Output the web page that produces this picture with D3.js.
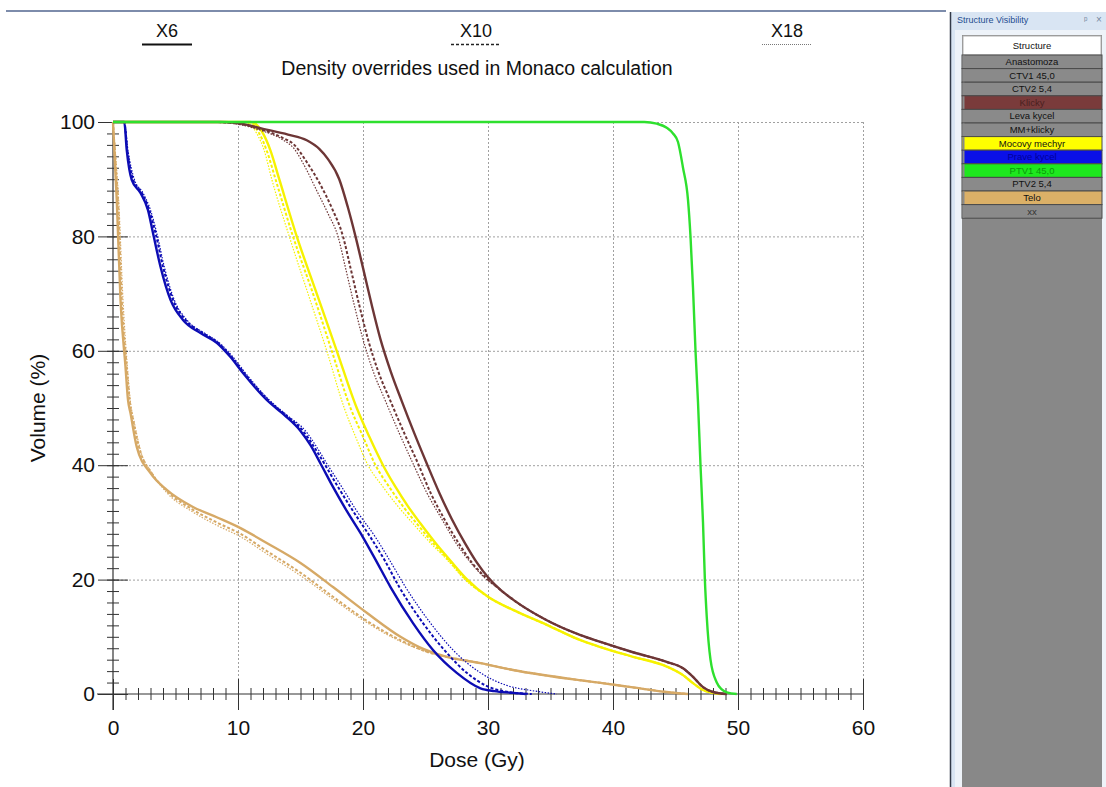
<!DOCTYPE html>
<html>
<head>
<meta charset="utf-8">
<script src="https://cdn.jsdelivr.net/npm/d3@7"></script>
<style>
  body { margin: 0; background: #fff; }
  svg { display: block; font-family: "Liberation Sans", Arial, sans-serif; }
</style>
</head>
<body>
<script>
// DVH curves, [dose Gy, volume %]
var klickyTail = [[31,18.2],[32,16.5],[34.7,12.9],[37.4,10.3],[39,9.1],[41.6,7.3],[44.3,5.6],[45.6,4.5],[46.4,3],[47.2,1.2],[48,0.35],[49.1,0]];
var klickyX6 = [[0,100],[8.5,100],[10,99.8],[12,98.8],[14,97.8],[15.5,96.8],[16.5,95.3],[17.2,93.5],[18.1,90],[18.8,85],[19.4,80],[20,74.5],[20.7,68],[21.4,62],[22.2,56.5],[23.1,51.2],[24.1,45.6],[25.1,40.3],[26.1,35.2],[27.1,30.6],[28.2,26.2],[29.1,23],[30,20.4]].concat(klickyTail);
var klickyX10 = [[0,100],[8,100],[10,99.7],[12,98.6],[13.5,97.3],[14.5,96],[15.5,93],[16.6,89],[17.5,85],[18.4,80],[19,74.5],[19.7,68],[20.4,62],[21.2,56.5],[22.2,51.2],[23.3,45.6],[24.4,40.3],[25.4,35.2],[26.5,30.6],[27.7,26.2],[28.7,23],[29.8,20.4]].concat(klickyTail);
var klickyX18 = [[0,100],[8,100],[10,99.6],[12,98.4],[13.5,97],[14.5,95.3],[15.4,92],[16.3,88],[17.2,84],[18,80],[18.6,74.5],[19.3,68],[20,62],[20.8,56.5],[21.8,51.2],[22.9,45.6],[24,40.3],[25.1,35.2],[26.3,30.6],[27.5,26.2],[28.6,23],[29.7,20.4]].concat(klickyTail);

var mechyrTail = [[30,17],[32,14.7],[34.7,12.1],[37.4,9.4],[39,8.2],[41.6,6.5],[44.3,4.8],[45.6,3.3],[46.4,1.9],[47.2,0.7],[48,0.2],[48.6,0]];
var mechyrX6 = [[0,100],[11,100],[12,98],[12.6,95],[13.3,90],[14.7,80],[16.3,70],[17.9,60],[19.5,50],[20.5,45],[21.6,40],[22.6,36.2],[23.6,32.8],[24.6,29.8],[25.8,26.4],[27,23.3],[28.3,20.1]].concat(mechyrTail);
var mechyrX10 = [[0,100],[10.7,100],[11.7,98],[12.3,95],[13,90],[14.4,80],[16,70],[17.5,60],[19,50],[20,45],[21,40],[22.1,36.2],[23.2,32.8],[24.3,29.8],[25.6,26.4],[26.9,23.3],[28.2,20.1]].concat(mechyrTail);
var mechyrX18 = [[0,100],[10.5,100],[11.5,98],[12.1,95],[12.7,90],[14.1,80],[15.6,70],[17.1,60],[18.5,50],[19.4,45],[20.4,40],[21.6,36.2],[22.8,32.8],[24,29.8],[25.4,26.4],[26.8,23.3],[28.1,20.1]].concat(mechyrTail);

var kycelX6 = [[0,100],[0.9,100],[1.1,95.1],[1.5,89.9],[2.2,87.6],[2.8,84.6],[3.2,80.6],[3.8,74.7],[4.6,68.9],[5.6,65.4],[7,63.1],[8.3,61.4],[9.4,58.9],[10.4,56.1],[12.3,51.4],[13.8,48.6],[15,46],[15.8,43.5],[16.6,40.3],[17.6,36.2],[18.7,32],[20,27.4],[21,23.5],[22.2,18.7],[24,12.4],[25.6,7.7],[27.5,3.7],[29.4,1],[30.5,0.5],[32,0.2],[33,0]];
var kycelX10 = [[0,100],[0.9,100],[1.15,95],[1.6,90],[2.3,87.6],[2.9,84.6],[3.4,80.6],[4,74.7],[4.8,68.9],[5.8,65.4],[7.2,63.1],[8.4,61.4],[9.5,58.9],[10.5,56.1],[12.4,51.4],[13.9,48.6],[15.2,46],[16,43.5],[16.9,40.3],[18,36.2],[19.2,32],[20.6,27.4],[21.7,23.5],[22.9,18.7],[24.8,12.4],[26.5,7.7],[28.3,3.7],[30,1.3],[31.5,0.4],[33.5,0]];
var kycelX18 = [[0,100],[0.9,100],[1.2,95],[1.7,90],[2.4,87.6],[3,84.6],[3.5,80.6],[4.1,74.7],[4.9,68.9],[5.9,65.4],[7.3,63.1],[8.5,61.4],[9.6,58.9],[10.6,56.1],[12.5,51.4],[14,48.6],[15.4,46],[16.2,43.5],[17.1,40.3],[18.3,36.2],[19.5,32],[21,27.4],[22.1,23.5],[23.4,18.7],[25.4,12.4],[27.2,7.7],[29.4,3.7],[31.5,1.5],[33.5,0.6],[35.5,0]];

var teloTail = [[26.7,6.5],[29.4,5.4],[32,4.2],[37.4,2.4],[39,1.95],[41.6,1.15],[44.3,0.35],[46,0]];
var teloX6 = [[0,100],[0.15,93],[0.3,86.4],[0.6,68.9],[1,57.2],[1.2,51.4],[1.4,49.1],[1.9,43.2],[3,38.6],[4.3,35.7],[6.4,32.7],[8.3,30.9],[10.2,29],[12.3,26.4],[15,22.9],[17.6,18.7],[20.3,14.2],[23,10],[24.5,8.2]].concat(teloTail);
var teloX10 = [[0,100],[0.2,93],[0.4,86.4],[0.7,68.9],[1.1,57.2],[1.35,51],[1.6,48],[2.1,43],[3.1,38.6],[4.3,35.5],[6.4,32.2],[8.3,30],[10.2,28],[12.3,25],[15,21.2],[17.6,17],[20.3,12.8],[23,9.4],[25.2,7.3]].concat(teloTail);
var teloX18 = [[0,100],[0.25,93],[0.45,86.4],[0.8,68.9],[1.15,57.2],[1.4,51],[1.7,47.5],[2.2,42.6],[3.2,38.4],[4.3,35.2],[6.4,31.8],[8.3,29.5],[10.2,27.5],[12.3,24.5],[15,20.7],[17.6,16.6],[20.3,12.5],[23,9.2],[25.2,7.3]].concat(teloTail);

var ptv1 = [[0,100],[42.5,100],[43.5,99.7],[44.3,99],[44.8,98],[45.2,96.5],[45.6,92],[46,86.4],[46.2,80],[46.4,71],[46.6,60],[46.8,51],[47,40],[47.2,30],[47.35,20],[47.5,13.5],[47.8,6],[48.3,2],[48.7,0.8],[49.1,0.3],[49.9,0]];

var xTicks = [0,10,20,30,40,50,60];
var yTicks = [0,20,40,60,80,100];
var legendNames = ["X6","X10","X18"];

var structNames = ["Anastomoza","CTV1 45,0","CTV2 5,4","Klicky","Leva kycel","MM+klicky","Mocovy mechyr","Prave kycel","PTV1 45,0","PTV2 5,4","Telo","xx"];
var structColors = ["#8a8a8a","#8a8a8a","#8a8a8a","#7a3b3b","#8a8a8a","#8a8a8a","#ffff00","#0a10e8","#1ee81e","#8a8a8a","#dbb067","#8a8a8a"];
var structText = ["#111","#111","#111","#4a2020","#111","#111","#111","#00009a","#0a9a0a","#111","#111","#333"];

var width = 1106, height = 787;
var svg = d3.select("body").append("svg").attr("width", width).attr("height", height);

var x = d3.scaleLinear().domain([0,60]).range([113,863]);
var y = d3.scaleLinear().domain([0,100]).range([694,122]);

// window frame
svg.append("line").attr("x1",6).attr("x2",946).attr("y1",11).attr("y2",11)
   .attr("stroke","#7d8cab").attr("stroke-width",2);

// legend
var legStyles = [{dash:null, w:2, c:"#111"}, {dash:"3,2", w:1.6, c:"#222"}, {dash:"1,1", w:1, c:"#777"}];
var legX = [167,476,787];
legendNames.forEach(function(n,i){
  svg.append("text").attr("x",legX[i]).attr("y",37).attr("text-anchor","middle")
     .attr("font-size","18px").attr("fill","#111").text(n);
  svg.append("line").attr("x1",legX[i]-25).attr("x2",legX[i]+25).attr("y1",44.5).attr("y2",44.5)
     .attr("stroke",legStyles[i].c).attr("stroke-width",legStyles[i].w)
     .attr("stroke-dasharray",legStyles[i].dash);
});

svg.append("text").attr("x",477).attr("y",75).attr("text-anchor","middle")
   .attr("font-size","19.5px").attr("fill","#111").text("Density overrides used in Monaco calculation");

// grid
var grid = svg.append("g").attr("stroke","#a0a0a0").attr("stroke-dasharray","2,2").attr("stroke-width",1);
grid.selectAll(".vg").data(xTicks.slice(1)).enter().append("line")
    .attr("x1",function(d){return x(d)+0.5;}).attr("x2",function(d){return x(d)+0.5;})
    .attr("y1",y(100)).attr("y2",y(0));
grid.selectAll(".hg").data(yTicks.slice(1)).enter().append("line")
    .attr("y1",function(d){return y(d)+0.5;}).attr("y2",function(d){return y(d)+0.5;})
    .attr("x1",x(0)).attr("x2",x(60));

// axes
var axisColor = "#333";
var gx = svg.append("g").attr("transform","translate(0,694)");
gx.append("line").attr("x1",x(0)-16).attr("x2",x(60)).attr("stroke",axisColor).attr("stroke-width",1.2);
var gxMinor = gx.append("g").call(d3.axisBottom(x).tickValues(d3.range(0,61,1)).tickSize(6).tickFormat(""));
gxMinor.selectAll(".tick line").attr("y1",-6);
var gxMajor = gx.append("g").call(d3.axisBottom(x).tickValues(xTicks).tickSize(16).tickPadding(10));
gxMajor.selectAll(".tick line").attr("y1",-15);
gx.selectAll(".domain").remove();
gx.selectAll(".tick line").attr("stroke",axisColor);
gxMajor.selectAll("text").attr("font-size","21px").attr("font-family","Liberation Sans, Arial").attr("fill","#111");

var gy = svg.append("g").attr("transform","translate(113,0)");
gy.append("line").attr("y1",y(100)).attr("y2",y(0)+16).attr("stroke",axisColor).attr("stroke-width",1.2);
var gyMinor = gy.append("g").call(d3.axisLeft(y).tickValues(d3.range(0,101,2)).tickSize(6).tickFormat(""));
gyMinor.selectAll(".tick line").attr("x1",6);
var gyMajor = gy.append("g").call(d3.axisLeft(y).tickValues(yTicks).tickSize(15).tickPadding(3));
gyMajor.selectAll(".tick line").attr("x1",15);
gy.selectAll(".domain").remove();
gy.selectAll(".tick line").attr("stroke",axisColor);
gyMajor.selectAll("text").attr("font-size","21px").attr("font-family","Liberation Sans, Arial").attr("fill","#111");

svg.append("text").attr("x",477).attr("y",767).attr("text-anchor","middle")
   .attr("font-size","21px").attr("fill","#111").text("Dose (Gy)");
svg.append("text").attr("transform","translate(45,408) rotate(-90)").attr("text-anchor","middle")
   .attr("font-size","21px").attr("fill","#111").text("Volume (%)");

// curves
var line = d3.line().x(function(d){return x(d[0]);}).y(function(d){return y(d[1]);}).curve(d3.curveMonotoneX);
var styles = {
  X18: {dash:"1.5,1.5", w:1.2},
  X10: {dash:"3,2", w:2},
  X6:  {dash:null, w:2.4}
};
var curves = [
  {c:"#d6a966", s:"X18", d:teloX18},{c:"#d6a966", s:"X10", d:teloX10},{c:"#d6a966", s:"X6", d:teloX6},
  {c:"#0c0cb4", s:"X18", d:kycelX18},{c:"#0c0cb4", s:"X10", d:kycelX10},{c:"#0c0cb4", s:"X6", d:kycelX6},
  {c:"#f6f200", s:"X18", d:mechyrX18},{c:"#f6f200", s:"X10", d:mechyrX10},{c:"#f6f200", s:"X6", d:mechyrX6},
  {c:"#6d3636", s:"X18", d:klickyX18},{c:"#6d3636", s:"X10", d:klickyX10},{c:"#6d3636", s:"X6", d:klickyX6},
  {c:"#2ee02e", s:"X6", d:ptv1}
];
svg.append("g").selectAll("path").data(curves).enter().append("path")
   .attr("d",function(d){return line(d.d);})
   .attr("fill","none")
   .attr("stroke",function(d){return d.c;})
   .attr("stroke-width",function(d){return styles[d.s].w;})
   .attr("stroke-dasharray",function(d){return styles[d.s].dash;});

// structure visibility panel
var panel = svg.append("g");
panel.append("rect").attr("x",951).attr("y",12).attr("width",155).attr("height",775).attr("fill","#d9e5f3");
panel.append("rect").attr("x",955).attr("y",30).attr("width",151).attr("height",757).attr("fill","#eef3f9");
panel.append("line").attr("x1",950.5).attr("x2",950.5).attr("y1",12).attr("y2",787).attr("stroke","#333a48").attr("stroke-width",1.5);
panel.append("text").attr("x",957).attr("y",23).attr("font-size","9px").attr("font-family","Liberation Sans, Arial")
     .attr("fill","#1f4d8f").text("Structure Visibility");
panel.append("text").attr("x",1084).attr("y",23).attr("font-size","9px").attr("fill","#7788a0").text("ᵖ");
panel.append("text").attr("x",1096).attr("y",23).attr("font-size","10px").attr("fill","#7788a0").text("×");

panel.append("rect").attr("x",962).attr("y",35).attr("width",140).attr("height",752).attr("fill","#888888");
panel.append("rect").attr("x",963).attr("y",36).attr("width",138).attr("height",19).attr("fill","#ffffff").attr("stroke","#b0b0b0");
panel.append("text").attr("x",1032).attr("y",49).attr("text-anchor","middle").attr("font-size","9.5px").attr("fill","#111").text("Structure");

var rowH = 13.6;
var rows = panel.selectAll(".row").data(structNames).enter().append("g")
   .attr("transform",function(d,i){return "translate(962," + (55 + i*rowH) + ")";});
rows.append("rect").attr("width",140).attr("height",rowH).attr("fill",function(d,i){return structColors[i];})
    .attr("stroke","#4a4a4a").attr("stroke-width",1);
rows.append("rect").attr("x",0.5).attr("y",0.5).attr("width",2).attr("height",rowH-1).attr("fill","#8a8a8a");
rows.append("text").attr("x",70).attr("y",rowH-3.5).attr("text-anchor","middle").attr("font-size","9.5px")
    .attr("fill",function(d,i){return structText[i];}).text(function(d){return d;});
</script>
</body>
</html>
